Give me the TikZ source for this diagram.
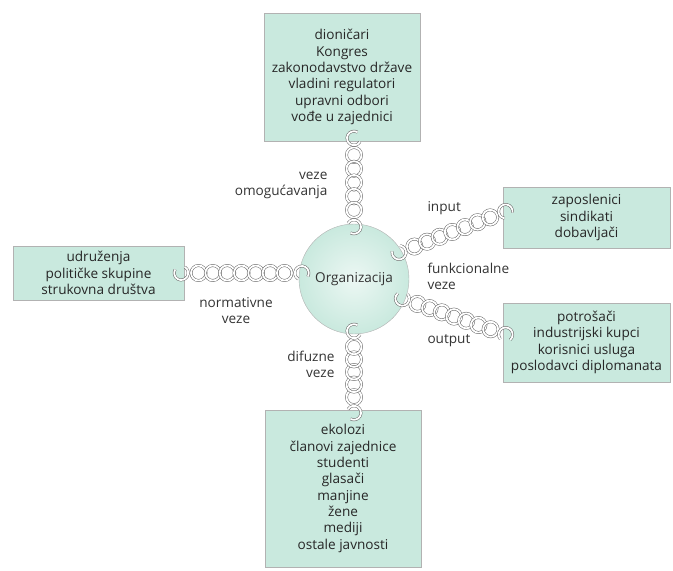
\documentclass[tikz,border=0pt]{standalone}
\usepackage{fontspec}
\setmainfont{Open Sans}
\usetikzlibrary{calc,positioning}
\definecolor{mint}{RGB}{201,233,222}
\definecolor{ring}{RGB}{100,100,100}
\newcommand{\chain}[3]{%
  \foreach \k in {1,...,#3}
    \draw[link] ($(#1)!{\k/(#3+1)}!(#2)$) circle (7.5);
  \draw[link] let \p1=($(#2)-(#1)$), \n1={atan2(\y1,\x1)} in
    ($(#1)+(\n1+180:3pt)+(\n1+150:7pt)$) arc[start angle=\n1+150, end angle=\n1+420, radius=7pt];
  \draw[link] let \p1=($(#1)-(#2)$), \n1={atan2(\y1,\x1)} in
    ($(#2)+(\n1+180:3pt)+(\n1+150:7pt)$) arc[start angle=\n1+150, end angle=\n1+420, radius=7pt];}

\begin{document}
\begin{tikzpicture}[x=1pt,y=-1pt,
  box/.style={draw=gray!60,fill=mint,align=center,inner sep=0pt,text=black!85,font=\fontsize{13.6}{16.3}\selectfont},
  link/.style={draw=ring,double=white,double distance=1.8pt,line width=0.5pt},
  lbl/.style={font=\fontsize{13.6}{16}\selectfont,text=black!80}]
\useasboundingbox (0,0) rectangle (673,571);

\node[box,minimum width=156pt,minimum height=128pt] (reg) at (342,77) {dioničari\\Kongres\\zakonodavstvo države\\vladini regulatori\\upravni odbori\\vođe u zajednici};
\node[box,minimum width=171pt,minimum height=54pt] (grp) at (98.5,273) {udruženja\\političke skupine\\strukovna društva};
\node[box,minimum width=167pt,minimum height=61pt] (inp) at (586.5,217.5) {zaposlenici\\sindikati\\dobavljači};
\node[box,minimum width=167pt,minimum height=79pt] (out) at (586.5,342.5) {potrošači\\industrijski kupci\\korisnici usluga\\poslodavci diplomanata};
\node[box,minimum width=156pt,minimum height=157pt] (pub) at (343,488.5) {ekolozi\\članovi zajednice\\studenti\\glasači\\manjine\\žene\\mediji\\ostale javnosti};

\node[circle,draw=gray!60,inner color=mint!35,outer color=mint,minimum size=110pt,lbl] (org) at (354,279) {Organizacija};

\coordinate (t1) at (reg.south -| org.north);
\coordinate (l1) at (grp.east -| org.west);
\coordinate (b1) at (pub.north -| org.south);
\coordinate (i1) at ($(inp.west)+(0,-5)$);
\coordinate (o1) at ($(out.west)+(0,-9)$);

\chain{t1}{org.north}{5}
\chain{grp.east}{l1}{7}
\chain{b1}{org.south}{5}
\chain{org.30}{i1}{7}
\chain{org.-22}{o1}{7}

\node[lbl,align=right,anchor=east] (enab) at (331,185) {veze\\omogućavanja};
\node[lbl,anchor=west] (inlbl) at (424,208) {input};
\node[lbl,align=left,anchor=west] (func) at (424,276) {funkcionalne\\veze};
\node[lbl,anchor=west] (outlbl) at (424,341) {output};
\node[lbl,align=center] (norm) at (236,311) {normativne\\veze};
\node[lbl,align=right,anchor=east] (dif) at (338,364) {difuzne\\veze};
\end{tikzpicture}
\end{document}
